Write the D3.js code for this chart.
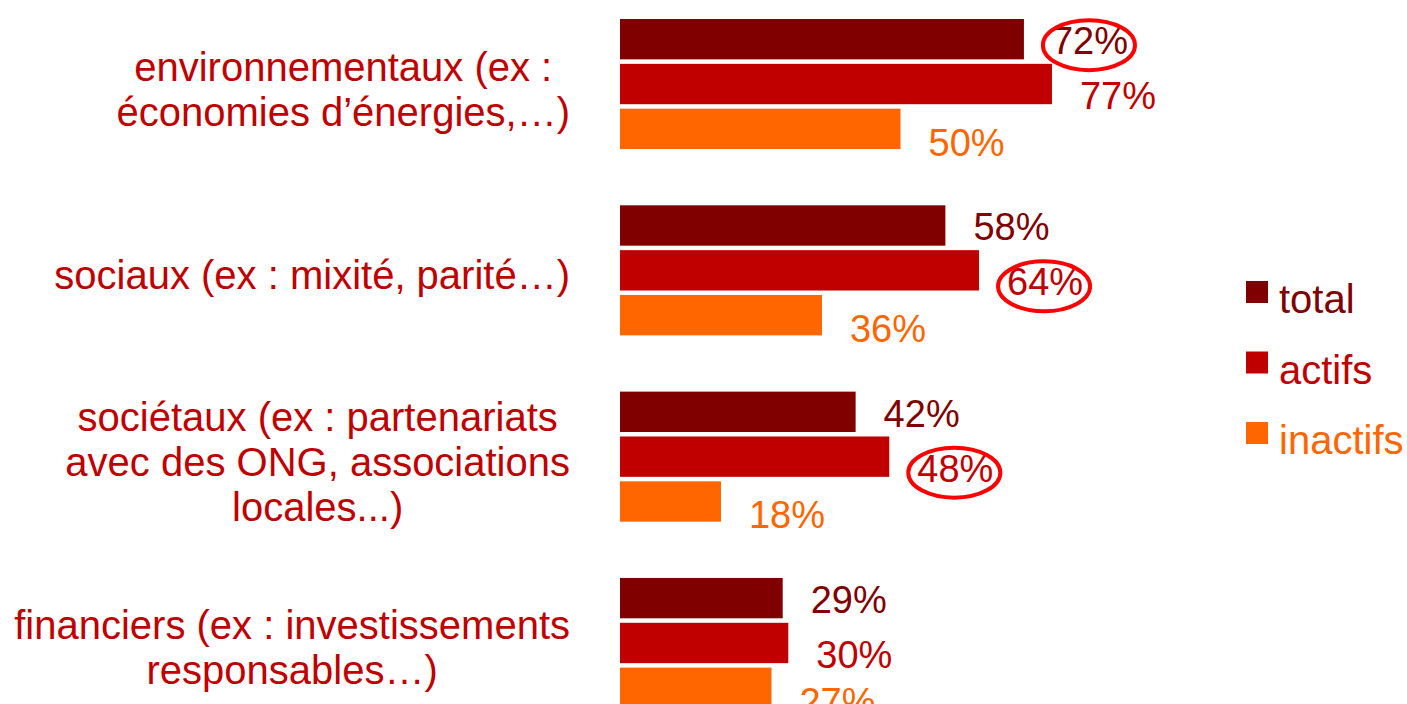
<!doctype html>
<html>
<head>
<meta charset="utf-8">
<script src="https://cdn.jsdelivr.net/npm/d3@7/dist/d3.min.js"></script>
<style>
  body { margin: 0; background: #fff; }
  svg { display: block; font-family: "Liberation Sans", Arial, sans-serif; }
</style>
</head>
<body>
<svg width="1407" height="704"></svg>
<script>
// data
var categories = ["environnementaux", "sociaux", "sociétaux", "financiers"];
var categoryLabels = [
  ["environnementaux (ex :", "économies d’énergies,…)"],
  ["sociaux (ex : mixité, parité…)"],
  ["sociétaux (ex : partenariats", "avec des ONG, associations", "locales...)"],
  ["financiers (ex : investissements", "responsables…)"]
];
var seriesNames = ["total", "actifs", "inactifs"];
var totalValues = [72, 58, 42, 29];
var actifsValues = [77, 64, 48, 30];
var inactifsValues = [50, 36, 18, 27];
// circled values: [category index, series]
var highlighted = [[0, "total"], [1, "actifs"], [2, "actifs"]];

var colors = { total: "#800000", actifs: "#C00000", inactifs: "#FF6600" };
var labelDy = { total: 15, actifs: 25, inactifs: 27 };

var values = { total: totalValues, actifs: actifsValues, inactifs: inactifsValues };

var svg = d3.select("svg");

var xScale = d3.scaleLinear().domain([0, 100]).range([620, 1181]);
var yGroup = d3.scaleBand().domain(categories).range([19, 708]).paddingInner(0.302);
var ySeries = d3.scaleBand().domain(seriesNames).range([0, yGroup.bandwidth()]).paddingInner(0.1);

var groups = svg.selectAll("g.cat")
  .data(categories)
  .enter().append("g")
  .attr("class", "cat")
  .attr("transform", d => "translate(0," + yGroup(d) + ")");

groups.each(function(cat, i) {
  var g = d3.select(this);
  var rows = seriesNames.map(s => ({ series: s, value: values[s][i], cat: i }));

  g.selectAll("rect")
    .data(rows)
    .enter().append("rect")
    .attr("x", xScale(0))
    .attr("y", d => ySeries(d.series))
    .attr("width", d => xScale(d.value) - xScale(0))
    .attr("height", ySeries.bandwidth())
    .style("fill", d => colors[d.series]);

  g.selectAll("text.val")
    .data(rows)
    .enter().append("text")
    .attr("class", "val")
    .attr("x", d => xScale(d.value) + 28)
    .attr("y", d => ySeries(d.series) + ySeries.bandwidth() / 2 + labelDy[d.series])
    .style("font-size", "38px")
    .style("fill", d => colors[d.series])
    .text(d => d.value + "%")
    .each(function(d) {
      var hit = highlighted.some(h => h[0] === d.cat && h[1] === d.series);
      if (!hit) return;
      var bb = this.getBBox();
      g.append("ellipse")
        .attr("cx", bb.x + bb.width / 2 - 1)
        .attr("cy", bb.y + bb.height / 2 + 4)
        .attr("rx", bb.width / 2 + 8)
        .attr("ry", 25)
        .style("fill", "none")
        .style("stroke", "#FF0000")
        .style("stroke-width", 4);
    });

  // category label, lines centred on each other, block right-aligned
  var lines = categoryLabels[i];
  var center = yGroup.bandwidth() / 2 + 5;
  var lab = g.append("g").attr("class", "catlabel");
  var texts = lab.selectAll("text")
    .data(lines)
    .enter().append("text")
    .attr("y", (d, k) => center + (k - (lines.length - 1) / 2) * 45 + 14)
    .attr("text-anchor", "middle")
    .style("font-size", "40px")
    .style("fill", "#C00000")
    .text(d => d);
  var maxW = d3.max(texts.nodes(), n => n.getComputedTextLength());
  texts.attr("x", 570 - maxW / 2);
});

// legend
var legend = svg.append("g").attr("transform", "translate(1246,281)");
var items = legend.selectAll("g")
  .data(seriesNames)
  .enter().append("g")
  .attr("transform", (d, k) => "translate(0," + k * 70.5 + ")");
items.append("rect")
  .attr("width", 22).attr("height", 22)
  .style("fill", d => colors[d]);
items.append("text")
  .attr("x", 33).attr("y", 32)
  .style("font-size", "40px")
  .style("fill", d => colors[d])
  .text(d => d);
</script>
</body>
</html>
